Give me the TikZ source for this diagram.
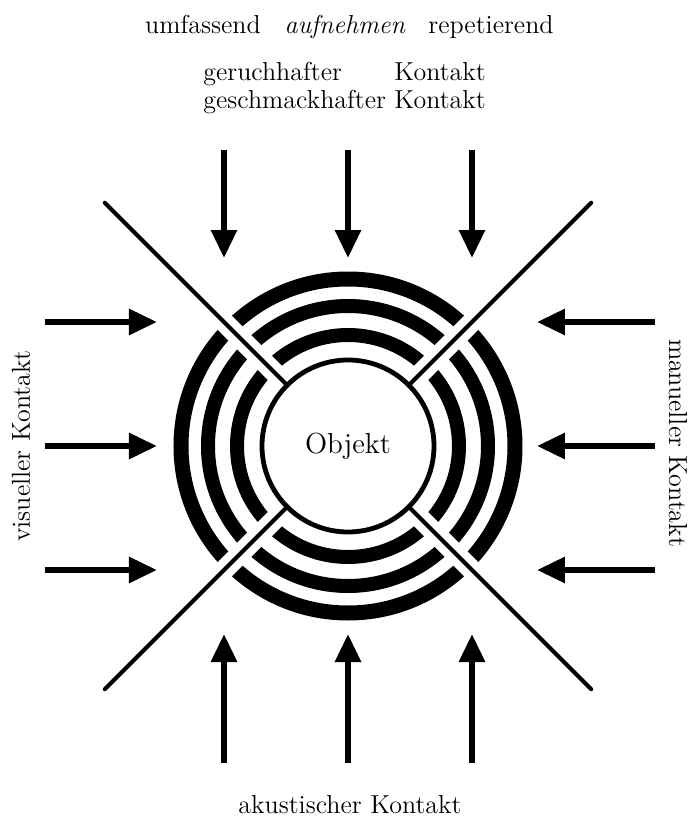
\documentclass[tikz,border=0pt]{standalone}
\usepackage{tikz}
\usetikzlibrary{arrows.meta}

\tikzset{
  contact/.style={line width=3pt,-{Triangle[length=14pt,width=12.5pt]}},
  cutline/.style={line width=2pt,line cap=round},
  gap/.style={white,line width=10pt},
  lbl/.style={inner sep=0pt},
}

\begin{document}
\begin{tikzpicture}[x=5pt,y=5pt,font=\fontsize{13}{14}\selectfont]
  \useasboundingbox (-34.8,-37.0) rectangle (34.0,44.6);
  \coordinate (O) at (0,0);

  % rings round the object, cut by the diagonals
  \foreach \r/\w in {16.7/7.5pt,14.0/7pt,11.1/7pt}
    \draw[line width=\w] (O) circle[radius=\r];
  \foreach \a in {45,135,225,315}
    \draw[gap] (\a:9.6) -- (\a:18.6);
  \foreach \a in {45,135,225,315}
    \draw[cutline] (\a:8.7) -- (\a:34.4);
  \node[circle,draw,line width=2.4pt,minimum size=86pt,fill=white,
    font=\fontsize{14.5}{16}\selectfont] (obj) at (O) {Objekt};

  % arrows from the four sides
  \foreach \i/\d in {1/-12.4,2/0,3/12.4}{
    \coordinate (top-a\i) at (\d,29.6);  \coordinate (top-b\i) at (\d,18.8);
    \coordinate (bot-a\i) at (\d,-31.7); \coordinate (bot-b\i) at (\d,-18.8);
    \coordinate (lft-a\i) at (-30.3,\d); \coordinate (lft-b\i) at (-19.1,\d);
    \coordinate (rgt-a\i) at (30.7,\d);  \coordinate (rgt-b\i) at (18.9,\d);
    \draw[contact] (top-a\i) -- (top-b\i);
    \draw[contact] (bot-a\i) -- (bot-b\i);
    \draw[contact] (lft-a\i) -- (lft-b\i);
    \draw[contact] (rgt-a\i) -- (rgt-b\i);
  }

  % labels
  \node[lbl,anchor=base] (umf) at (-14.5,41.3) {umfassend};
  \node[lbl,anchor=base] (auf) at (-0.3,41.3) {\textit{aufnehmen}};
  \node[lbl,anchor=base] (rep) at (14.3,41.3) {repetierend};
  \node[lbl,anchor=base west] (chem) at (-14.5,36.6)
    {\begin{tabular}[t]{@{}l@{\ }l@{}}geruchhafter & Kontakt\\ geschmackhafter & Kontakt\end{tabular}};
  \node[lbl,rotate=90] (vis) at (-32.7,0) {visueller Kontakt};
  \node[lbl,rotate=-90] (man) at (33.0,0.3) {manueller Kontakt};
  \node[lbl,anchor=base] (aku) at (0.2,-36.7) {akustischer Kontakt};
\end{tikzpicture}
\end{document}
